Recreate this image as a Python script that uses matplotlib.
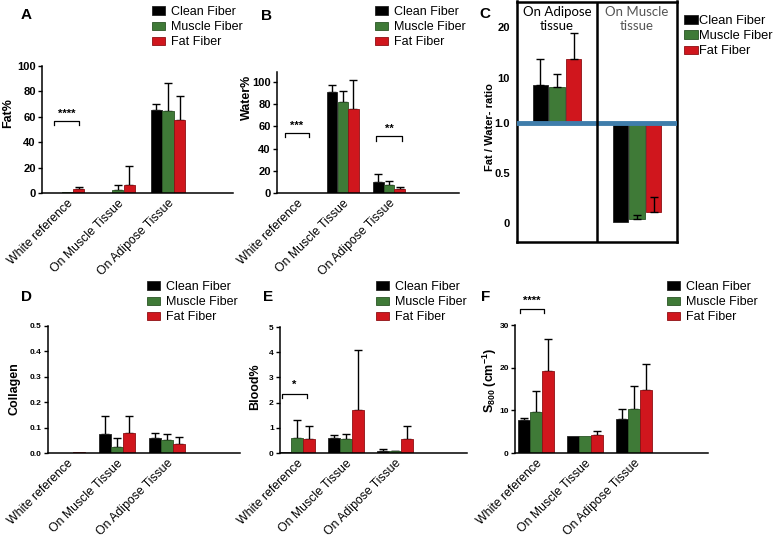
import numpy as np
import matplotlib
matplotlib.use("Agg")
import matplotlib.pyplot as plt
from matplotlib.transforms import ScaledTranslation

plt.rcParams['font.family'] = ['Liberation Sans', 'DejaVu Sans']

groups = ["White reference", "On Muscle Tissue", "On Adipose Tissue"]
series = ["Clean Fiber", "Muscle Fiber", "Fat Fiber"]
colors = ["#000000", "#3f7a37", "#d0161d"]
edges = ["#222222", "#2b5526", "#8e1014"]

# A: Fat %  (rows = clean, muscle, fat fiber)
fat_mean = [[0.3, 0.2, 65.3], [1.0, 2.1, 64.5], [2.9, 6.0, 57.4]]
fat_err = [[0, 0, 4.7], [0, 3.9, 21.8], [1.8, 15.0, 19.1]]

# B: Water %
water_mean = [[0.2, 91.0, 10.0], [0.3, 82.0, 7.0], [0.3, 76.0, 4.0]]
water_err = [[0, 6.6, 7.0], [0, 10.0, 3.5], [0, 26.0, 1.5]]

# C: Fat / Water ratio
ratio_tissue = ["On Adipose\ntissue", "On Muscle\ntissue"]
ratio_adipose = [8.54, 8.08, 13.65]
ratio_adipose_err = [5.1, 2.6, 5.25]
ratio_muscle = [0.01, 0.034, 0.104]
ratio_muscle_err = [0, 0.043, 0.156]

# D: Collagen
coll_mean = [[0.0, 0.074, 0.059], [0.0, 0.025, 0.052], [0.003, 0.078, 0.037]]
coll_err = [[0, 0.070, 0.019], [0, 0.035, 0.024], [0, 0.066, 0.026]]

# E: Blood %
blood_mean = [[0.02, 0.60, 0.09], [0.60, 0.56, 0.07], [0.56, 1.72, 0.57]]
blood_err = [[0, 0.11, 0.06], [0.72, 0.19, 0.02], [0.52, 2.38, 0.49]]

# F: S800
s800_mean = [[7.8, 3.9, 8.0], [9.5, 3.9, 10.4], [19.25, 4.3, 14.8]]
s800_err = [[0.4, 0, 2.3], [5.1, 0, 5.2], [7.45, 0.8, 6.1]]

W, H = 773, 537
fig = plt.figure(figsize=(W / 100, H / 100), dpi=100)


def box(l, t, r, b):
    return [l / W, 1 - b / H, (r - l) / W, (b - t) / H]


def bars(ax, means, errs, width, offset):
    x = np.arange(len(groups))
    hs = []
    for i in range(3):
        xi = x + (i - 1) * offset
        m = np.array(means[i])
        e = np.array(errs[i])
        b = ax.bar(xi, m, width, color=colors[i], edgecolor=edges[i],
                   linewidth=0.6, label=series[i], zorder=2)
        k = e > 0
        ax.errorbar(xi[k], m[k], yerr=[np.zeros(k.sum()), e[k]], fmt='none',
                    ecolor='black', elinewidth=1, capsize=2.8, capthick=1, zorder=1)
        hs.append(b)
    return hs


def style(ax, yticks, ylabels, ysize):
    for s in ['top', 'right']:
        ax.spines[s].set_visible(False)
    for s in ['left', 'bottom']:
        ax.spines[s].set_linewidth(1.1)
    ax.set_xticks(np.arange(len(groups)))
    ax.set_xticklabels(groups, rotation=45, ha='right', va='top',
                       rotation_mode='anchor', fontsize=8.8)
    shift = ScaledTranslation(0.04, 0, fig.dpi_scale_trans)
    for lab in ax.get_xticklabels():
        lab.set_transform(lab.get_transform() + shift)
    ax.tick_params(axis='x', length=0, pad=3)
    ax.set_yticks(yticks, ylabels, fontweight='bold', fontsize=ysize)
    ax.tick_params(axis='y', length=3, width=1, pad=1.5)


def bracket(ax, x0, x1, y, d, stars, ys):
    ax.plot([x0, x0, x1, x1], [y - d, y, y, y - d], color='black', lw=0.9, clip_on=False)
    ax.text((x0 + x1) / 2, ys, stars, ha='center', va='center', fontsize=8,
            fontweight='bold', clip_on=False)


def legend(hs, x, y, fs=9, pad=0.5):
    fig.legend(handles=hs, loc='upper left', bbox_to_anchor=(x / W, 1 - y / H),
               frameon=False, fontsize=fs, handlelength=1.05, handleheight=0.65,
               handletextpad=pad, labelspacing=0.25, borderpad=0, borderaxespad=0)


def panel_label(x, y, s):
    fig.text(x / W, 1 - y / H, s, fontsize=11, fontweight='bold', ha='left', va='center')


def ylab(x, y, s, fs=8.5):
    fig.text(x / W, 1 - y / H, s, rotation=90, ha='center', va='center',
             fontsize=fs, fontweight='bold')


# ---- A
ax = fig.add_axes(box(42, 66, 233, 193))
hs = bars(ax, fat_mean, fat_err, 0.225, 0.23)
ax.set_ylim(0, 100)
ax.set_xlim(-0.5, 3.29)
style(ax, [0, 20, 40, 60, 80, 100], ['0', '20', '40', '60', '80', '100'], 8)
bracket(ax, -0.26, 0.24, 57, 3.5, '****', 62.5)
legend(hs, 152, 6)
panel_label(21, 15, 'A')
ylab(8, 113, 'Fat%', 9)

# ---- B
ax = fig.add_axes(box(277, 72, 459, 193))
hs = bars(ax, water_mean, water_err, 0.225, 0.23)
ax.set_ylim(0, 109)
ax.set_xlim(-0.43, 3.52)
style(ax, [0, 20, 40, 60, 80, 100], ['0', '20', '40', '60', '80', '100'], 8)
bracket(ax, -0.26, 0.26, 54, 4, '***', 60.5)
bracket(ax, 1.72, 2.28, 51, 4, '**', 57.5)
legend(hs, 375, 6)
panel_label(261, 16, 'B')
ylab(247, 97, 'Water%', 9)


# ---- C
def fwd(v):
    v = np.asarray(v, dtype=float)
    return np.where(v <= 1, v, np.where(v <= 10, 1 + (v - 1) * 0.05, 1.45 + (v - 10) * 0.0504))


def inv(t):
    t = np.asarray(t, dtype=float)
    return np.where(t <= 1, t, np.where(t <= 1.45, 1 + (t - 1) / 0.05, 10 + (t - 1.45) / 0.0504))


axc = fig.add_axes(box(517, 1.5, 677, 241.7))
axc.set_yscale('function', functions=(fwd, inv))
axc.set_xlim(0, 2)
axc.set_ylim(-0.19, 25.1)
hs = []
for i in range(3):
    xa = 0.5 + (i - 1) * 0.21
    xm = 1.5 + (i - 1) * 0.21
    b = axc.bar(xa, ratio_adipose[i] - 1, 0.19, bottom=1, color=colors[i],
                edgecolor=edges[i], linewidth=0.6, label=series[i], zorder=2)
    axc.bar(xm, 1 - ratio_muscle[i], 0.19, bottom=ratio_muscle[i], color=colors[i],
            edgecolor=edges[i], linewidth=0.6, zorder=2)
    axc.errorbar([xa], [ratio_adipose[i]], yerr=[[0], [ratio_adipose_err[i]]], fmt='none',
                 ecolor='black', elinewidth=1, capsize=2.8, capthick=1, zorder=3)
    if ratio_muscle_err[i] > 0:
        axc.errorbar([xm], [ratio_muscle[i]], yerr=[[0], [ratio_muscle_err[i]]], fmt='none',
                     ecolor='black', elinewidth=1, capsize=2.8, capthick=1, zorder=3)
    hs.append(b)
axc.axhline(1.0, color='#3f7dab', lw=3.5, zorder=4)
axc.axvline(1.0, color='black', lw=1.8, zorder=5)
for s in axc.spines.values():
    s.set_linewidth(1.8)
axc.set_xticks([])
axc.set_yticks([0, 0.5, 1, 10, 20], ['0', '0.5', '1.0', '10', '20'], fontweight='bold', fontsize=8)
axc.tick_params(axis='y', length=0, pad=5)
axc.yaxis.set_minor_locator(matplotlib.ticker.NullLocator())
fig.text(557 / W, 1 - 19 / H, ratio_tissue[0], ha='center', va='center', fontsize=9.5,
         family='Lato', linespacing=1.3, color='black')
fig.text(637 / W, 1 - 19 / H, ratio_tissue[1], ha='center', va='center', fontsize=9.5,
         family='Lato', linespacing=1.3, color='#555555')
legend(hs, 684, 15, fs=9.3, pad=0.1)
panel_label(479, 14, 'C')
ylab(490, 127, 'Fat / Water- ratio', 8)

# ---- D
ax = fig.add_axes(box(48, 326, 240, 453))
hs = bars(ax, coll_mean, coll_err, 0.235, 0.24)
ax.set_ylim(0, 0.5)
ax.set_xlim(-0.38, 3.46)
style(ax, [0, 0.1, 0.2, 0.3, 0.4, 0.5], ['0.0', '0.1', '0.2', '0.3', '0.4', '0.5'], 6)
legend(hs, 147, 281)
panel_label(21, 297, 'D')
ylab(15, 389, 'Collagen', 9)

# ---- E
ax = fig.add_axes(box(280, 327, 467, 453))
hs = bars(ax, blood_mean, blood_err, 0.24, 0.245)
ax.set_ylim(0, 5)
ax.set_xlim(-0.35, 3.47)
style(ax, [0, 1, 2, 3, 4, 5], ['0', '1', '2', '3', '4', '5'], 6)
bracket(ax, -0.3, 0.2, 2.35, 0.17, '*', 2.7)
legend(hs, 376, 281)
panel_label(263, 297, 'E')
ylab(255, 387, 'Blood%', 9)

# ---- F
ax = fig.add_axes(box(515, 325, 708, 453))
hs = bars(ax, s800_mean, s800_err, 0.245, 0.25)
ax.set_ylim(0, 30)
ax.set_xlim(-0.43, 3.51)
style(ax, [0, 10, 20, 30], ['0', '10', '20', '30'], 6)
bracket(ax, -0.33, 0.16, 33.8, 1.0, '****', 35.7)
legend(hs, 667, 281)
panel_label(481, 297, 'F')
ylab(490, 380, r'S$_{\mathregular{800}}$ (cm$^{\mathregular{-1}}$)', 9)

fig.savefig('out.png', dpi=100)
